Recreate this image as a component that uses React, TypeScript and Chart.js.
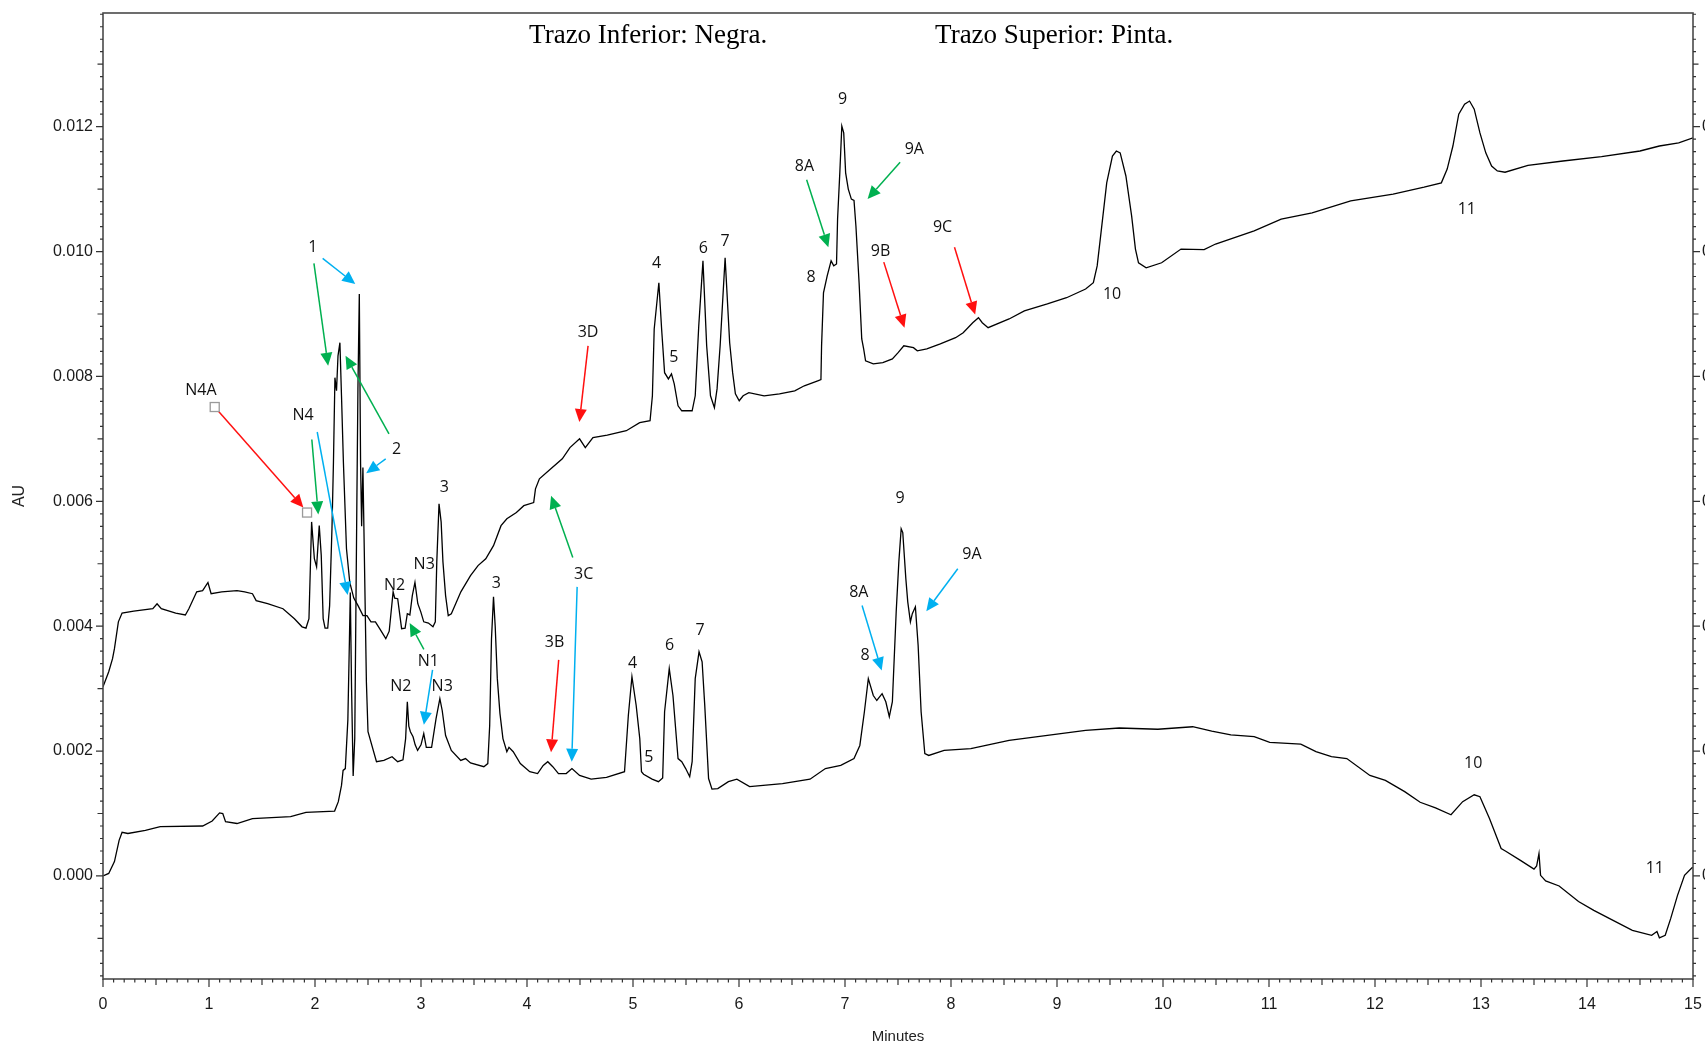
import React, { useEffect, useRef } from 'react';
import { Chart, registerables } from 'chart.js';

Chart.register(...registerables);

// ---- Lower trace (Negra) ----
const lowerTimes = [
  0, 0.054, 0.108, 0.152, 0.18, 0.235, 0.4, 0.54, 0.94, 1.03, 1.1, 1.13, 1.156, 1.264, 1.41, 1.77, 1.915, 2.185,
  2.22, 2.25, 2.265, 2.286, 2.31, 2.325, 2.333, 2.345, 2.36, 2.375, 2.395, 2.405, 2.418, 2.43, 2.44, 2.452, 2.465,
  2.485, 2.5, 2.58, 2.65, 2.727, 2.78, 2.83, 2.855, 2.871, 2.885, 2.9, 2.925, 2.945, 2.968, 3.0, 3.026, 3.05, 3.1,
  3.142, 3.178, 3.2, 3.232, 3.286, 3.375, 3.42, 3.467, 3.593, 3.63, 3.648, 3.665, 3.684, 3.7, 3.72, 3.745, 3.773,
  3.81, 3.83, 3.87, 3.937, 4.026, 4.1, 4.153, 4.196, 4.243, 4.297, 4.37, 4.424, 4.496, 4.605, 4.75, 4.92, 4.956,
  4.99, 5.03, 5.064, 5.08, 5.1, 5.18, 5.24, 5.28, 5.298, 5.342, 5.377, 5.425, 5.46, 5.497, 5.535, 5.558, 5.587,
  5.623, 5.652, 5.677, 5.713, 5.745, 5.8, 5.9, 5.98, 6.1, 6.41, 6.67, 6.815, 6.96, 7.085, 7.14, 7.183, 7.22, 7.267,
  7.3, 7.35, 7.385, 7.418, 7.447, 7.483, 7.508, 7.53, 7.545, 7.574, 7.592, 7.617, 7.635, 7.664, 7.69, 7.718, 7.753,
  7.79, 7.935, 8.187, 8.548, 8.909, 9.27, 9.587, 9.951, 10.28, 10.46, 10.64, 10.86, 11.007, 11.3, 11.443, 11.589,
  11.734, 11.952, 12.098, 12.28, 12.426, 12.571, 12.717, 12.827, 12.936, 12.99, 13.08, 13.19, 13.23, 13.372, 13.5,
  13.525, 13.547, 13.562, 13.61, 13.737, 13.92, 14.064, 14.246, 14.428, 14.61, 14.66, 14.683, 14.738, 14.79,
  14.854, 14.92, 14.99, 15,
];
const lowerAU = [
  0, 0.00004, 0.00023, 0.00057, 0.0007, 0.00068, 0.00073, 0.00079, 0.0008, 0.00088, 0.00101, 0.001, 0.00087,
  0.00084, 0.00092, 0.00095, 0.00102, 0.00104, 0.00119, 0.00145, 0.00169, 0.00172, 0.0025, 0.0038, 0.00454,
  0.003, 0.0016, 0.0022, 0.006, 0.0078, 0.00932, 0.0066, 0.0056, 0.00654, 0.0052, 0.0031, 0.00231, 0.00183,
  0.00185, 0.00191, 0.00183, 0.00186, 0.0022, 0.00279, 0.0024, 0.00231, 0.00223, 0.0021, 0.00201, 0.0021, 0.00228,
  0.00206, 0.00206, 0.00252, 0.00284, 0.00265, 0.00225, 0.00201, 0.00185, 0.00188, 0.00181, 0.00175, 0.0018,
  0.00241, 0.0038, 0.00447, 0.004, 0.00316, 0.0026, 0.0022, 0.00199, 0.00206, 0.00199, 0.0018, 0.00167, 0.00164,
  0.00177, 0.00183, 0.00175, 0.00164, 0.00164, 0.00172, 0.00161, 0.00155, 0.00158, 0.00167, 0.00257, 0.00319,
  0.00273, 0.0022, 0.00167, 0.00163, 0.00155, 0.00151, 0.00157, 0.00263, 0.00332, 0.00289, 0.00188, 0.00183,
  0.00172, 0.00159, 0.00183, 0.00316, 0.00359, 0.00343, 0.00273, 0.00156, 0.00139, 0.0014, 0.00151, 0.00155,
  0.00143, 0.00148, 0.00155, 0.00172, 0.00177, 0.00188, 0.00209, 0.00263, 0.00316, 0.00289, 0.00281, 0.00292,
  0.00279, 0.00255, 0.00279, 0.00423, 0.00503, 0.00556, 0.0055, 0.00476, 0.00439, 0.00407, 0.0042, 0.00431,
  0.00369, 0.00263, 0.00196, 0.00193, 0.00201, 0.00204, 0.00217, 0.00225, 0.00233, 0.00237, 0.00235, 0.00239,
  0.00232, 0.00226, 0.00223, 0.00214, 0.00211, 0.00199, 0.00191, 0.00188, 0.00161, 0.00153, 0.00135, 0.00118,
  0.00109, 0.00098, 0.00119, 0.0013, 0.00127, 0.00092, 0.00044, 0.0004, 0.00025, 0.00011, 0.00016, 0.00036,
  0.00001, -0.00008, -0.00016, -0.00041, -0.00055, -0.00071, -0.00087, -0.00095, -0.00089, -0.00099, -0.00095,
  -0.00068, -0.00031, 0.00001, 0.00013, 0.00014,
];

// ---- Upper trace (Pinta) ----
const upperTimes = [
  0, 0.054, 0.09, 0.108, 0.145, 0.18, 0.29, 0.47, 0.51, 0.55, 0.686, 0.777, 0.81, 0.884, 0.94, 0.99, 1.02, 1.12,
  1.264, 1.337, 1.41, 1.445, 1.553, 1.698, 1.806, 1.878, 1.915, 1.943, 1.968, 1.994, 2.015, 2.04, 2.059, 2.077,
  2.095, 2.12, 2.138, 2.16, 2.174, 2.188, 2.203, 2.217, 2.235, 2.25, 2.268, 2.297, 2.328, 2.366, 2.406, 2.453, 2.49,
  2.528, 2.57, 2.61, 2.668, 2.7, 2.737, 2.752, 2.78, 2.817, 2.85, 2.871, 2.895, 2.918, 2.943, 2.97, 2.998, 3.026,
  3.07, 3.113, 3.135, 3.149, 3.17, 3.19, 3.207, 3.232, 3.257, 3.286, 3.32, 3.376, 3.467, 3.538, 3.611, 3.684,
  3.755, 3.81, 3.9, 3.97, 4.063, 4.08, 4.117, 4.225, 4.333, 4.405, 4.496, 4.55, 4.622, 4.757, 4.937, 5.063, 5.161,
  5.183, 5.2, 5.244, 5.27, 5.298, 5.334, 5.363, 5.389, 5.425, 5.46, 5.558, 5.587, 5.62, 5.66, 5.695, 5.731, 5.768,
  5.793, 5.822, 5.869, 5.912, 5.94, 5.966, 6.002, 6.039, 6.093, 6.237, 6.382, 6.526, 6.616, 6.743, 6.773, 6.779,
  6.797, 6.832, 6.869, 6.894, 6.92, 6.93, 6.951, 6.97, 6.988, 7.006, 7.031, 7.06, 7.085, 7.103, 7.133, 7.158, 7.176,
  7.194, 7.267, 7.357, 7.447, 7.501, 7.555, 7.646, 7.682, 7.772, 7.899, 8.043, 8.115, 8.205, 8.259, 8.295, 8.35,
  8.548, 8.692, 8.909, 9.09, 9.27, 9.343, 9.379, 9.415, 9.469, 9.523, 9.56, 9.596, 9.65, 9.704, 9.74, 9.769, 9.841,
  9.987, 10.17, 10.388, 10.496, 10.86, 11.115, 11.407, 11.771, 12.171, 12.463, 12.626, 12.681, 12.735, 12.79,
  12.845, 12.892, 12.936, 12.99, 13.045, 13.1, 13.154, 13.227, 13.443, 13.773, 14.137, 14.5, 14.683, 14.865, 15,
];
const upperAU = [
  0.00303, 0.00327, 0.00348, 0.00364, 0.00407, 0.00421, 0.00424, 0.00428, 0.00436, 0.00428, 0.00421, 0.00418,
  0.00428, 0.00455, 0.00457, 0.0047, 0.00452, 0.00455, 0.00457, 0.00455, 0.00452, 0.00441, 0.00436, 0.00428,
  0.00412, 0.00399, 0.00397, 0.00412, 0.00567, 0.00508, 0.00495, 0.00561, 0.00513, 0.00412, 0.00397, 0.00397,
  0.00433, 0.00556, 0.00662, 0.00798, 0.00777, 0.00833, 0.00854, 0.00769, 0.00662, 0.00524, 0.0047, 0.00445,
  0.00433, 0.00417, 0.00417, 0.00407, 0.00407, 0.00396, 0.0038, 0.00392, 0.00455, 0.00445, 0.00444, 0.00396,
  0.00397, 0.0042, 0.00418, 0.00449, 0.0047, 0.00436, 0.00423, 0.00407, 0.00405, 0.00399, 0.00407, 0.00503,
  0.00596, 0.00567, 0.00503, 0.00449, 0.00417, 0.0042, 0.00433, 0.00455, 0.00481, 0.00497, 0.00508, 0.00529,
  0.00561, 0.00572, 0.00582, 0.00593, 0.00598, 0.0062, 0.00636, 0.00652, 0.00668, 0.00686, 0.007, 0.00686, 0.00702,
  0.00706, 0.00713, 0.00726, 0.00729, 0.00769, 0.00876, 0.0095, 0.00876, 0.00806, 0.00796, 0.00804, 0.00788,
  0.00753, 0.00745, 0.00745, 0.00769, 0.0088, 0.00985, 0.00849, 0.00769, 0.0075, 0.0078, 0.00849, 0.0099, 0.00854,
  0.00806, 0.00772, 0.00761, 0.00769, 0.00774, 0.00769, 0.00772, 0.00777, 0.00785, 0.00793, 0.00795, 0.00849,
  0.00934, 0.00961, 0.00985, 0.00977, 0.0098, 0.01052, 0.01126, 0.01201, 0.0119, 0.01126, 0.011, 0.01084, 0.01082,
  0.01041, 0.0095, 0.0086, 0.00844, 0.00825, 0.0082, 0.00822, 0.00828, 0.00838, 0.00849, 0.00846, 0.00841,
  0.00844, 0.00852, 0.00862, 0.0087, 0.00886, 0.00894, 0.00886, 0.00878, 0.00892, 0.00905, 0.00916, 0.00926,
  0.0094, 0.0095, 0.00977, 0.0103, 0.0111, 0.01153, 0.01161, 0.01158, 0.01121, 0.01057, 0.01004, 0.00982, 0.00974,
  0.00982, 0.01004, 0.01003, 0.01012, 0.01033, 0.01052, 0.01062, 0.01081, 0.01092, 0.01103, 0.0111, 0.01132,
  0.01169, 0.0122, 0.01236, 0.01241, 0.01228, 0.0119, 0.01158, 0.01137, 0.01129, 0.01127, 0.01138, 0.01145,
  0.01152, 0.01161, 0.01169, 0.01174, 0.01182,
];

// ---- Axis ranges / ticks ----
const xMin = 0;
const xMax = 15;
const yMin = -0.00165;
const yMax = 0.01382;
const yTickStep = 0.002;

// ---- Header texts (data coords of left edge / middle) ----
const headerTexts = ['Trazo Inferior: Negra.', 'Trazo Superior: Pinta.'];
const headerT = [4.02, 7.85];
const headerAU = [0.01346, 0.01346];

// ---- Peak labels ----
const peakLabels = [
  '1', '2', 'N4A', 'N4', 'N2', 'N3', 'N1', '3', '3', 'N2', 'N3', '3B', '3C', '3D', '4', '5', '6', '7', '4', '5', '6',
  '7', '8A', '8', '9', '9A', '9B', '9C', '10', '11', '9', '9A', '8A', '8', '10', '11',
];
const peakLabelT = [
  1.98, 2.77, 0.923, 1.888, 2.75, 3.03, 3.07, 3.22, 3.71, 2.81, 3.2, 4.26, 4.535, 4.576, 5.222, 5.386, 5.663, 5.868,
  4.996, 5.15, 5.345, 5.633, 6.617, 6.679, 6.977, 7.654, 7.335, 7.92, 9.52, 12.866, 7.52, 8.197, 7.13, 7.19, 12.927,
  14.64,
];
const peakLabelAU = [
  0.01007, 0.00683, 0.00777, 0.00737, 0.00466, 0.00499, 0.00344, 0.00623, 0.00468, 0.00304, 0.00304, 0.00374,
  0.00483, 0.00871, 0.00981, 0.00831, 0.01005, 0.01016, 0.00341, 0.0019, 0.00369, 0.00393, 0.01137, 0.00958,
  0.01243, 0.01164, 0.01, 0.01038, 0.00932, 0.01068, 0.00605, 0.00515, 0.00454, 0.00353, 0.00181, 0.00012,
];

// ---- Arrows (tail -> head, data coords) ----
const arrowKinds = [
  'blue', 'green', 'green', 'blue', 'red', 'green', 'blue', 'green', 'blue', 'green', 'blue', 'red', 'red', 'green',
  'green', 'red', 'red', 'blue', 'blue',
];
const arrowFromT = [
  2.072, 1.99, 2.698, 2.667, 1.054, 1.97, 2.021, 3.027, 3.109, 4.432, 4.473, 4.299, 4.576, 6.638, 7.52, 7.366, 8.033,
  7.161, 8.064,
];
const arrowFromAU = [
  0.00989, 0.00981, 0.00708, 0.00668, 0.00751, 0.00699, 0.00711, 0.00363, 0.0033, 0.0051, 0.00463, 0.00346, 0.00849,
  0.01115, 0.01143, 0.00983, 0.01007, 0.00433, 0.00492,
];
const arrowToT = [
  2.38, 2.124, 2.288, 2.483, 1.89, 2.031, 2.308, 2.893, 3.027, 4.227, 4.422, 4.227, 4.494, 6.843, 7.213, 7.561, 8.228,
  7.346, 7.767,
];
const arrowToAU = [
  0.00948, 0.00817, 0.00833, 0.00645, 0.0059, 0.00579, 0.0045, 0.00405, 0.00242, 0.00609, 0.00183, 0.00198, 0.00727,
  0.01007, 0.01084, 0.00878, 0.00899, 0.00329, 0.00424,
];

// marker boxes of the N4A callout
const boxT = [1.054, 1.925];
const boxAU = [0.00751, 0.00582];

const arrowColorMap: Record<string, string> = { blue: '#00B0F0', green: '#00B050', red: '#FF1010' };

function drawArrow(ctx: CanvasRenderingContext2D, x1: number, y1: number, x2: number, y2: number, color: string) {
  const ang = Math.atan2(y2 - y1, x2 - x1);
  const headLen = 13;
  const headW = 6;
  const bx = x2 - headLen * Math.cos(ang);
  const by = y2 - headLen * Math.sin(ang);
  ctx.strokeStyle = color;
  ctx.fillStyle = color;
  ctx.lineWidth = 1.5;
  ctx.beginPath();
  ctx.moveTo(x1, y1);
  ctx.lineTo(bx, by);
  ctx.stroke();
  ctx.beginPath();
  ctx.moveTo(x2, y2);
  ctx.lineTo(bx + headW * Math.sin(ang), by - headW * Math.cos(ang));
  ctx.lineTo(bx - headW * Math.sin(ang), by + headW * Math.cos(ang));
  ctx.closePath();
  ctx.fill();
}

const decorPlugin = {
  id: 'decor',
  afterDatasetsDraw(chart: any) {
    const { ctx, chartArea } = chart;
    const xs = chart.scales.x;
    const ys = chart.scales.y;
    const { left, right, top, bottom } = chartArea;
    ctx.save();

    // frame
    ctx.strokeStyle = '#4a4a4a';
    ctx.lineWidth = 1.6;
    ctx.strokeRect(left, top, right - left, bottom - top);

    // tick marks
    ctx.strokeStyle = '#333';
    ctx.lineWidth = 1.2;
    ctx.beginPath();
    for (let i = 0; i <= 150; i++) {
      const v = i / 10;
      const px = xs.getPixelForValue(v);
      const len = i % 10 === 0 ? 8 : i % 5 === 0 ? 6 : 3.5;
      ctx.moveTo(px, bottom);
      ctx.lineTo(px, bottom + len);
    }
    for (let i = -8; i <= 69; i++) {
      const v = i * 0.0002;
      if (v < yMin || v > yMax) continue;
      const py = ys.getPixelForValue(v);
      const len = i % 10 === 0 ? 7 : i % 5 === 0 ? 5.5 : 3;
      ctx.moveTo(left, py);
      ctx.lineTo(left - len, py);
      ctx.moveTo(right, py);
      ctx.lineTo(right + len, py);
    }
    ctx.stroke();

    // clipped right-side tick labels
    ctx.fillStyle = '#1a1a1a';
    ctx.font = '16px "Liberation Sans", Arial, sans-serif';
    ctx.textAlign = 'left';
    ctx.textBaseline = 'middle';
    for (let v = 0; v <= 0.0121; v += yTickStep) {
      ctx.fillText(v.toFixed(3), right + 9, ys.getPixelForValue(v));
    }

    // headers
    ctx.fillStyle = '#000';
    ctx.font = '27px "Liberation Serif", "Times New Roman", serif';
    ctx.textAlign = 'left';
    ctx.textBaseline = 'middle';
    headerTexts.forEach((t, i) => {
      ctx.fillText(t, xs.getPixelForValue(headerT[i]), ys.getPixelForValue(headerAU[i]));
    });

    // arrows
    arrowKinds.forEach((k, i) => {
      drawArrow(
        ctx,
        xs.getPixelForValue(arrowFromT[i]),
        ys.getPixelForValue(arrowFromAU[i]),
        xs.getPixelForValue(arrowToT[i]),
        ys.getPixelForValue(arrowToAU[i]),
        arrowColorMap[k]
      );
    });

    // boxes
    ctx.strokeStyle = '#9a9a9a';
    ctx.fillStyle = '#fff';
    ctx.lineWidth = 1.3;
    boxT.forEach((t, i) => {
      const px = xs.getPixelForValue(t);
      const py = ys.getPixelForValue(boxAU[i]);
      ctx.fillRect(px - 4.5, py - 4.5, 9, 9);
      ctx.strokeRect(px - 4.5, py - 4.5, 9, 9);
    });

    // peak labels
    ctx.fillStyle = '#111';
    ctx.font = '16px "Open Sans", "Noto Sans", sans-serif';
    ctx.textAlign = 'center';
    ctx.textBaseline = 'middle';
    peakLabels.forEach((t, i) => {
      ctx.fillText(t, xs.getPixelForValue(peakLabelT[i]), ys.getPixelForValue(peakLabelAU[i]));
    });

    ctx.restore();
  },
};

export default function App() {
  const ref = useRef<HTMLCanvasElement | null>(null);
  useEffect(() => {
    if (!ref.current) return;
    const lower = lowerTimes.map((t, i) => ({ x: t, y: lowerAU[i] }));
    const upper = upperTimes.map((t, i) => ({ x: t, y: upperAU[i] }));
    const tickFont = { family: '"Liberation Sans", Arial, sans-serif', size: 16 };
    const chart = new Chart(ref.current, {
      type: 'line',
      data: {
        datasets: [
          { label: 'Negra', data: lower, borderColor: '#000', borderWidth: 1.3, pointRadius: 0, tension: 0, fill: false },
          { label: 'Pinta', data: upper, borderColor: '#000', borderWidth: 1.3, pointRadius: 0, tension: 0, fill: false },
        ],
      },
      options: {
        responsive: false,
        animation: false,
        devicePixelRatio: 1,
        layout: { padding: { top: 13, right: 12, left: 0, bottom: 0 } },
        plugins: { legend: { display: false }, tooltip: { enabled: false }, title: { display: false } },
        scales: {
          x: {
            type: 'linear',
            min: xMin,
            max: xMax,
            grid: { display: false, drawTicks: false },
            border: { display: false },
            ticks: { stepSize: 1, font: tickFont, color: '#1a1a1a', padding: 16, maxRotation: 0, autoSkip: false },
            title: {
              display: true,
              text: 'Minutes',
              font: { family: '"Liberation Sans", Arial, sans-serif', size: 15 },
              color: '#222',
              padding: { top: 2, bottom: 1 },
            },
            afterFit: (s: any) => {
              s.height = 68;
              s.paddingLeft = 0;
              s.paddingRight = 0;
            },
          },
          y: {
            type: 'linear',
            min: yMin,
            max: yMax,
            grid: { display: false, drawTicks: false },
            border: { display: false },
            ticks: {
              stepSize: yTickStep,
              includeBounds: false,
              font: tickFont,
              color: '#1a1a1a',
              padding: 10,
              callback: (v: any) => Number(v).toFixed(3),
            },
            title: {
              display: true,
              text: 'AU',
              font: { family: '"Liberation Sans", Arial, sans-serif', size: 16 },
              color: '#222',
              padding: { top: 10, bottom: 4 },
            },
            afterFit: (s: any) => {
              s.width = 103;
              s.paddingTop = 0;
              s.paddingBottom = 0;
            },
          },
        },
      },
      plugins: [decorPlugin],
    });
    return () => chart.destroy();
  }, []);
  return (
    <div style={{ position: 'fixed', left: 0, top: 0, width: 1705, height: 1047, background: '#fff' }}>
      <canvas ref={ref} width={1705} height={1047} style={{ display: 'block' }} />
    </div>
  );
}
